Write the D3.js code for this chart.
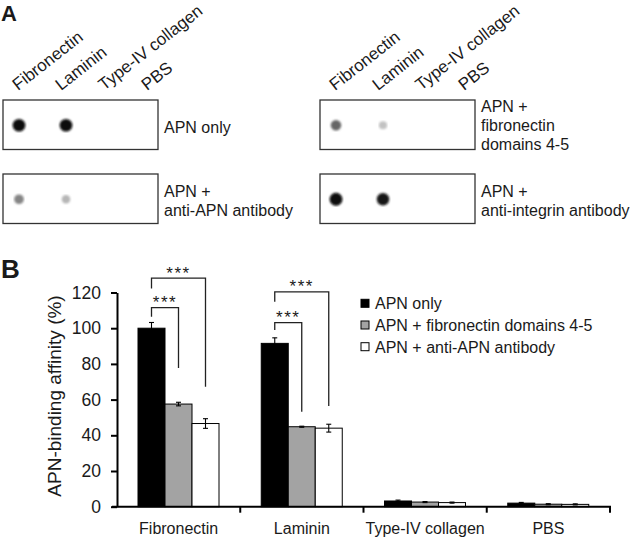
<!DOCTYPE html>
<html>
<head>
<meta charset="utf-8">
<script src="https://cdn.jsdelivr.net/npm/d3@7/dist/d3.min.js"></script>
<style>
  body { margin: 0; background: #fff; }
  text { font-family: Arial, "Liberation Sans", sans-serif; fill: #1a1a1a; }
</style>
</head>
<body>
<div id="graf"></div>
<script>
// I. Data
lanes = ['Fibronectin', 'Laminin', 'Type-IV collagen', 'PBS']

// dot blot intensities (0 = nothing, 1 = black spot), one per lane
blotApnOnly       = [0.95, 0.95, 0, 0]
blotAntiApn       = [0.45, 0.25, 0, 0]
blotFn45          = [0.58, 0.2, 0, 0]
blotAntiIntegrin  = [0.97, 0.9, 0, 0]

blotLabelApnOnly      = ['APN only']
blotLabelAntiApn      = ['APN +', 'anti-APN antibody']
blotLabelFn45         = ['APN +', 'fibronectin', 'domains 4-5']
blotLabelAntiIntegrin = ['APN +', 'anti-integrin antibody']

series = ['APN only', 'APN + fibronectin domains 4-5', 'APN + anti-APN antibody']
apnOnly     = [100, 91.5, 3.2, 2.0]
apnOnlyErr  = [3.2, 3.1, 0.5, 0.4]
fn45        = [57.5, 44.8, 2.6, 1.4]
fn45Err     = [1.0, 0.3, 0.3, 0.3]
antiApn     = [46.6, 44.0, 2.3, 1.3]
antiApnErr  = [2.7, 2.2, 0.3, 0.3]

yTicks = [0, 20, 40, 60, 80, 100, 120]

// significance brackets: category, from series, to series, level, left leg end, right leg end
bracketCat   = ['Fibronectin', 'Fibronectin', 'Laminin', 'Laminin']
bracketFrom  = [0, 0, 0, 0]
bracketTo    = [2, 1, 2, 1]
bracketLevel = [128, 111.5, 120.4, 103.1]
bracketLeft  = [122.3, 106.4, 114.8, 99]
bracketRight = [67.2, 77.7, 56.4, 53.2]
bracketText  = ['***', '***', '***', '***']

// II. Setup
ancho_total = 633
alto_total = 537

svg = d3.select('#graf').append('svg')
        .attr('width', ancho_total)
        .attr('height', alto_total)

// ---------- Panel A: dot blots ----------
svg.append('text')
   .attr('x', 1).attr('y', 21)
   .style('font-size', '22px').style('font-weight', 'bold')
   .text('A')

blots = [
  { vals: blotApnOnly,      label: blotLabelApnOnly,      x: 3,   y: 100, ly: 132.5 },
  { vals: blotAntiApn,      label: blotLabelAntiApn,      x: 3,   y: 174, ly: 196.5 },
  { vals: blotFn45,         label: blotLabelFn45,         x: 320, y: 100, ly: 112 },
  { vals: blotAntiIntegrin, label: blotLabelAntiIntegrin, x: 320, y: 174, ly: 196.5 }
]
boxW = 155
boxH = 49.5

laneDot = d3.scalePoint().domain(lanes).range([16, 157])
laneLab = d3.scalePoint().domain(lanes).range([15, 144])
dotR = d3.scaleLinear().domain([0, 1]).range([3.5, 6.5])
dotC = d3.scaleLinear().domain([0, 1]).range(['#f2f2f2', '#000'])

defs = svg.append('defs')
defs.append('filter').attr('id', 'soft')
    .append('feGaussianBlur').attr('stdDeviation', 0.8)

// lane headers over each column of boxes
;[3, 320].forEach(bx => {
  svg.append('g').selectAll('text')
     .data(lanes)
     .join('text')
       .attr('transform', d => `translate(${bx + laneLab(d)}, 91) rotate(-38)`)
       .style('font-size', '17px')
       .text(d => d)
})

blots.forEach(b => {
  g = svg.append('g').attr('transform', `translate(${b.x}, ${b.y})`)
  g.append('rect')
   .attr('width', boxW).attr('height', boxH)
   .attr('fill', '#fff').attr('stroke', '#333').attr('stroke-width', 1.3)
  g.selectAll('circle')
   .data(lanes.map((l, i) => ({ lane: l, v: b.vals[i] })).filter(d => d.v > 0))
   .join('circle')
     .attr('cx', d => laneDot(d.lane))
     .attr('cy', boxH / 2 + 0.5)
     .attr('r', d => dotR(d.v))
     .attr('fill', d => dotC(d.v))
     .attr('filter', 'url(#soft)')
  g.append('g').selectAll('text')
   .data(b.label)
   .join('text')
     .attr('x', boxW + 6)
     .attr('y', (d, i) => b.ly - b.y + i * 19)
     .style('font-size', '16px')
     .text(d => d)
})

// ---------- Panel B: bar chart ----------
svg.append('text')
   .attr('x', 1).attr('y', 278)
   .style('font-size', '26px').style('font-weight', 'bold')
   .text('B')

x = d3.scaleBand().domain(lanes).range([117, 610]).padding(0)
x1 = d3.scaleBand().domain(d3.range(series.length)).range([21, 102])
y = d3.scaleLinear().domain([0, 120]).range([506.7, 292.5])
color = d3.scaleOrdinal().domain(d3.range(3)).range(['#000', '#a3a3a3', '#fff'])

vals = [apnOnly, fn45, antiApn]
errs = [apnOnlyErr, fn45Err, antiApnErr]
barData = []
lanes.forEach((l, i) => {
  vals.forEach((v, s) => barData.push({ lane: l, s: s, v: v[i], e: errs[s][i] }))
})

bars = svg.append('g')
bars.selectAll('rect')
    .data(barData)
    .join('rect')
      .attr('x', d => x(d.lane) + x1(d.s))
      .attr('y', d => y(d.v))
      .attr('width', x1.bandwidth())
      .attr('height', d => y(0) - y(d.v))
      .attr('fill', d => color(d.s))
      .attr('stroke', '#000').attr('stroke-width', 1)

// error bars
eb = svg.append('g').attr('stroke', '#000').attr('stroke-width', 1.1)
barData.forEach(d => {
  cx = x(d.lane) + x1(d.s) + x1.bandwidth() / 2
  eb.append('line').attr('x1', cx).attr('x2', cx).attr('y1', y(d.v + d.e)).attr('y2', y(d.v - d.e))
  eb.append('line').attr('x1', cx - 2.5).attr('x2', cx + 2.5).attr('y1', y(d.v + d.e)).attr('y2', y(d.v + d.e))
  eb.append('line').attr('x1', cx - 2.5).attr('x2', cx + 2.5).attr('y1', y(d.v - d.e)).attr('y2', y(d.v - d.e))
})

// y axis
yAxisGroup = svg.append('g').attr('transform', `translate(117, 0)`)
yAxisGroup.call(d3.axisLeft(y).tickValues(yTicks).tickSize(6).tickPadding(10).tickSizeOuter(0))
yAxisGroup.selectAll('path, line').attr('stroke', '#000').attr('stroke-width', 2)
yAxisGroup.selectAll('text').style('font-size', '17.5px').attr('fill', '#1a1a1a')
  .style('font-family', 'Arial, "Liberation Sans", sans-serif')

svg.append('text')
   .attr('transform', `translate(61, 396) rotate(-90)`)
   .attr('text-anchor', 'middle')
   .style('font-size', '19px')
   .text('APN-binding affinity (%)')

// x axis
xAxisGroup = svg.append('g').attr('transform', `translate(0, ${y(0)})`)
xAxisGroup.call(d3.axisBottom(x).tickSize(0).tickPadding(16))
xAxisGroup.select('.domain').remove()
xAxisGroup.selectAll('text').style('font-size', '16px').attr('fill', '#1a1a1a')
  .style('font-family', 'Arial, "Liberation Sans", sans-serif')
xAxisGroup.append('line')
  .attr('x1', 112).attr('x2', x.range()[1] + 1)
  .attr('stroke', '#000').attr('stroke-width', 2)
xAxisGroup.selectAll('.bound')
  .data(lanes)
  .join('line')
    .attr('class', 'bound')
    .attr('x1', d => x(d) + x.bandwidth()).attr('x2', d => x(d) + x.bandwidth())
    .attr('y1', 0).attr('y2', 6)
    .attr('stroke', '#000').attr('stroke-width', 2)

// significance brackets
br = svg.append('g')
bracketCat.forEach((c, i) => {
  xa = x(c) + x1(bracketFrom[i]) + x1.bandwidth() / 2
  xb = x(c) + x1(bracketTo[i]) + x1.bandwidth() / 2
  br.append('path')
    .attr('d', `M${xa},${y(bracketLeft[i])}V${y(bracketLevel[i])}H${xb}V${y(bracketRight[i])}`)
    .attr('fill', 'none').attr('stroke', '#222').attr('stroke-width', 1.3)
  br.append('text')
    .attr('x', (xa + xb) / 2).attr('y', y(bracketLevel[i]) + 0.5)
    .attr('text-anchor', 'middle')
    .style('font-size', '17px').style('letter-spacing', '1.5px')
    .text(bracketText[i])
})

// legend
legend = svg.append('g').attr('transform', 'translate(361, 303.3)')
legend.selectAll('rect')
  .data(series)
  .join('rect')
    .attr('x', 0).attr('y', (d, i) => i * 21.7 - 4)
    .attr('width', 8).attr('height', 8)
    .attr('fill', (d, i) => color(i))
    .attr('stroke', '#000').attr('stroke-width', 1)
legend.selectAll('text')
  .data(series)
  .join('text')
    .attr('x', 14).attr('y', (d, i) => i * 21.7 + 6)
    .style('font-size', '16px')
    .text(d => d)
</script>
</body>
</html>
